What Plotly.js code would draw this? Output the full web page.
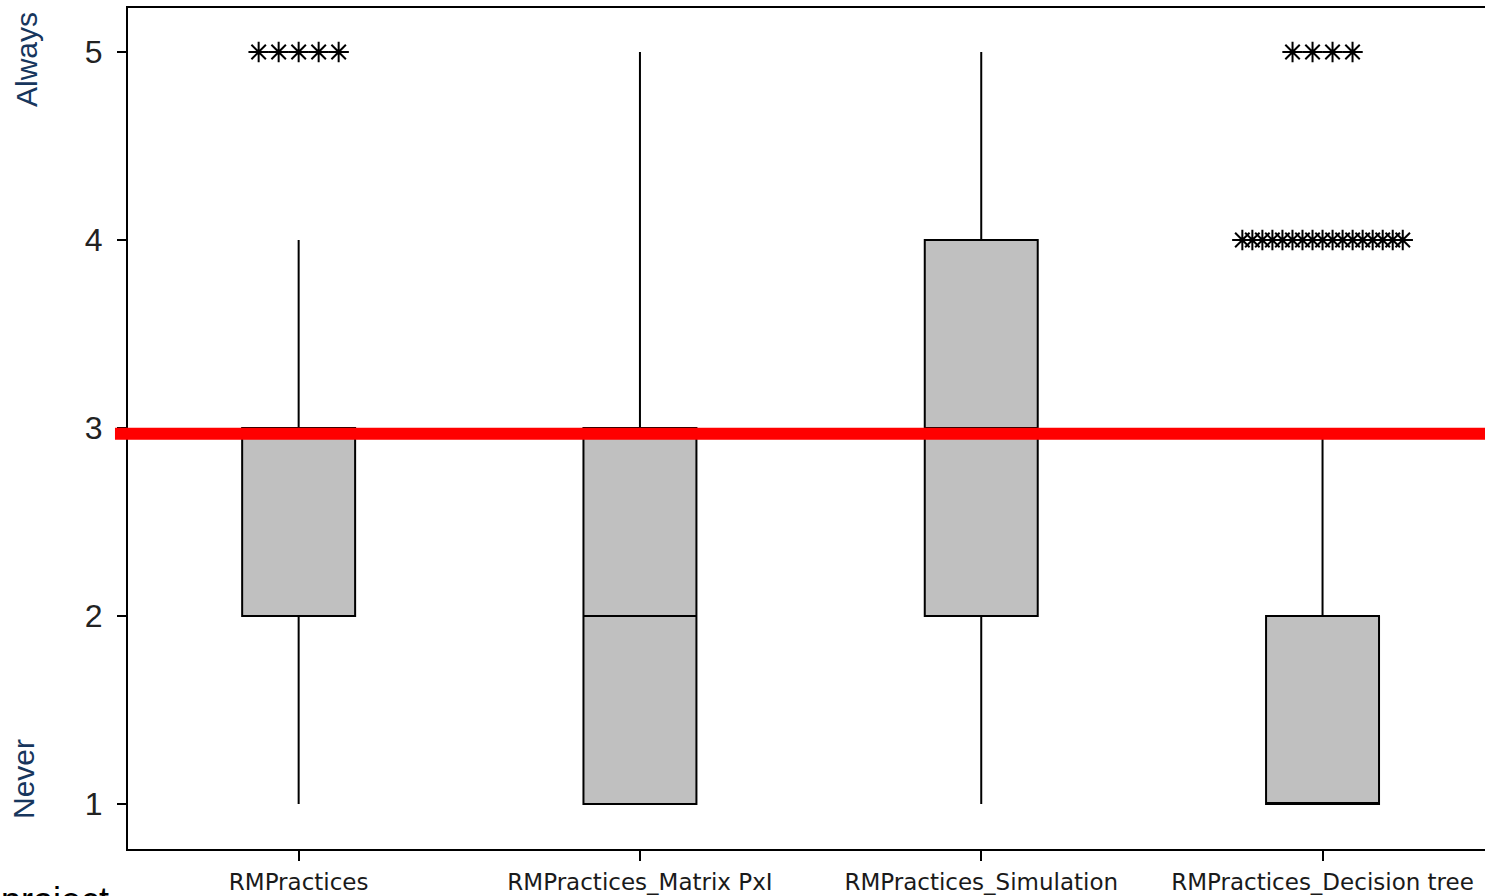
<!DOCTYPE html>
<html>
<head>
<meta charset="utf-8">
<script src="https://cdn.plot.ly/plotly-3.0.1.min.js"></script>
<style>html,body{margin:0;padding:0;background:#fff;}#chart{width:1485px;height:896px;}</style>
</head>
<body>
<div id="chart"></div>
<script>
// Categories and box statistics (Likert 1 = Never ... 5 = Always)
const categories = ["RMPractices", "RMPractices_Matrix PxI", "RMPractices_Simulation", "RMPractices_Decision tree"];
const lowerWhisker = [1, 1, 1, 1];
const q1Values     = [2, 1, 2, 1];
const medianValues = [3, 2, 3, 1];
const q3Values     = [3, 3, 4, 2];
const upperWhisker = [4, 5, 5, 3];

// Outliers: category index, value, number of coinciding responses
const outlierCategory = [0, 3, 3];
const outlierValue    = [5, 5, 4];
const outlierCount    = [5, 4, 17];

// Reference line
const referenceValue = 2.97;

const catIdx = categories.map((_, i) => i);

const boxTrace = {
  type: "box",
  x: catIdx,
  q1: q1Values,
  median: medianValues,
  q3: q3Values,
  lowerfence: lowerWhisker,
  upperfence: upperWhisker,
  width: 0.331,
  whiskerwidth: 0,
  boxpoints: false,
  fillcolor: "#c0c0c0",
  line: {color: "#000000", width: 2},
  hoverinfo: "skip",
  showlegend: false
};

// Spread coinciding outliers side by side (as the original software does)
const ox = [], oy = [];
outlierCategory.forEach((c, g) => {
  const n = outlierCount[g];
  const step = n > 1 ? Math.min(0.0586, 0.47 / (n - 1)) : 0;
  for (let k = 0; k < n; k++) {
    ox.push(c + (k - (n - 1) / 2) * step);
    oy.push(outlierValue[g]);
  }
});
const outlierTrace = {
  type: "scatter",
  mode: "markers",
  x: ox, y: oy,
  marker: {symbol: "asterisk-open", size: 17, color: "#000", line: {color: "#000", width: 2}},
  hoverinfo: "skip",
  showlegend: false
};

const layout = {
  width: 1485, height: 896,
  margin: {l: 128, r: 0, t: 8, b: 47},
  paper_bgcolor: "#ffffff",
  plot_bgcolor: "#ffffff",
  showlegend: false,
  xaxis: {
    range: [-0.5, 3.476],
    tickvals: catIdx,
    ticktext: categories,
    showgrid: false, zeroline: false,
    showline: true, mirror: true, linecolor: "#000", linewidth: 2,
    ticks: "outside", ticklen: 10, tickwidth: 2, tickcolor: "#000",
    tickfont: {family: "DejaVu Sans", size: 23, color: "#1a1a1a"},
    ticklabelstandoff: 1
  },
  yaxis: {
    range: [0.761, 5.234],
    tickvals: [1, 2, 3, 4, 5],
    showgrid: false, zeroline: false,
    showline: true, linecolor: "#000", linewidth: 2,
    ticks: "outside", ticklen: 9, tickwidth: 2, tickcolor: "#000",
    tickfont: {family: "Liberation Sans", size: 32, color: "#222"},
    ticklabelstandoff: 8
  },
  shapes: [{
    type: "line", layer: "above",
    xref: "paper", x0: -0.0096, x1: 1,
    yref: "y", y0: referenceValue, y1: referenceValue,
    line: {color: "#ff0000", width: 12}
  }],
  annotations: [
    {text: "Always", xref: "paper", yref: "paper", x: (26 - 128) / 1357, y: 1 - (60 - 8) / 841,
     xanchor: "center", yanchor: "middle",
     showarrow: false, textangle: -90, font: {family: "Liberation Sans", size: 30, color: "#17365d"}},
    {text: "Never", xref: "paper", yref: "paper", x: (23 - 128) / 1357, y: 1 - (779 - 8) / 841,
     xanchor: "center", yanchor: "middle",
     showarrow: false, textangle: -90, font: {family: "Liberation Sans", size: 30, color: "#17365d"}},
    {text: "project", xref: "paper", yref: "paper", x: (111 - 128) / 1357, y: 1 - (900 - 8) / 841,
     xanchor: "right", yanchor: "middle",
     showarrow: false, font: {family: "Liberation Sans", size: 36, color: "#000"}}
  ]
};

Plotly.newPlot("chart", [boxTrace, outlierTrace], layout, {displayModeBar: false, staticPlot: true});
</script>
</body>
</html>
